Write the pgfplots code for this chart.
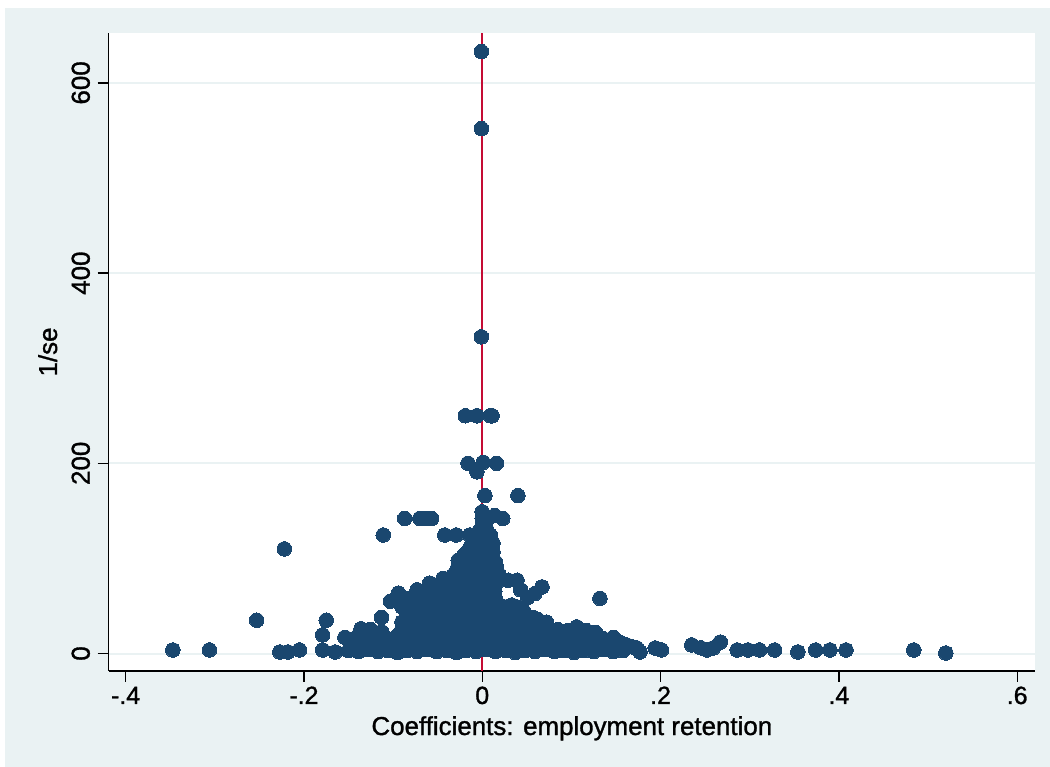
\documentclass[border=0pt]{standalone}
\usepackage{pgfplots}
\pgfplotsset{compat=1.18}
\usepackage{fontspec}
\setmainfont{Liberation Sans}[BoldFont=Liberation Sans, BoldFeatures={FakeBold=1.2}]
\definecolor{bgblue}{RGB}{234,242,243}
\definecolor{navy}{RGB}{26,71,111}
\definecolor{cran}{RGB}{196,12,52}
\definecolor{gridc}{RGB}{234,242,243}
\begin{document}
\begin{tikzpicture}[x=1bp,y=1bp]
\useasboundingbox (-108.7,-96) rectangle (941.3,671);
\fill[white] (-108.7,-96) rectangle (941.3,671);
\fill[bgblue] (-103.7,-96) rectangle (941.3,663);
\begin{axis}[
  at={(0,0)}, anchor=south west,
  scale only axis, width=926.3bp, height=638bp,
  xmin=-0.419, xmax=0.620, ymin=-18.4, ymax=652.5,
  axis lines*=left,
  axis line style={black, line width=1.6bp},
  axis background/.style={fill=white},
  xtick={-0.4,-0.2,0,0.2,0.4,0.6},
  xticklabels={-.4,-.2,0,.2,.4,.6},
  ytick={0,200,400,600},
  yticklabels={0,200,400,600},
  tick align=outside,
  major tick length=11bp,
  every tick/.style={black, line width=1.3bp},
  ymajorgrids, major grid style={gridc, line width=2bp},
  xticklabel style={font=\fontsize{25}{25}\selectfont\bfseries, anchor=base, yshift=-22bp},
  yticklabel style={font=\fontsize{26}{26}\selectfont\bfseries, xshift=-8bp, rotate=90, anchor=base},
  xlabel={Coefficients: employment retention},
  ylabel={1/se},
  every axis x label/.style={at={(axis description cs:0.5,0)}, anchor=base, yshift=-64bp, font=\fontsize{26}{26}\selectfont\bfseries},
  every axis y label/.style={at={(axis description cs:0,0.5)}, xshift=-51.7bp, rotate=90, anchor=base, font=\fontsize{26}{26}\selectfont\bfseries},
]
\addplot[cran, line width=2bp] coordinates {(0,-18.4) (0,652.5)};
\addplot[only marks, mark=*, mark size=7.3bp, mark options={fill=navy, draw=navy, line width=0pt}] coordinates {
(-0.347,3.7) (-0.306,3.7) (-0.253,35) (-0.222,110) (-0.227,1.6) (-0.218,1.6) (-0.205,3.7)
(-0.179,19.5) (-0.175,35) (-0.179,3.7) (-0.165,1.6) (-0.154,17) (-0.113,38) (-0.111,124.6)
(-0.103,55) (-0.094,63.5) (-0.090,49)
(-0.087,142) (-0.070,142) (-0.064,142) (-0.057,142)
(-0.042,124.6) (-0.029,124.6) (-0.014,124.6) (0.009,124.6)
(0.000,135) (0.004,137) (0.000,142) (0.014,145) (0.023,142) (0.000,149)
(0.003,166) (0.040,166)
(-0.016,200) (-0.006,191) (0.001,201) (0.016,200)
(-0.019,250) (-0.006,250) (0.009,250) (0.011,250)
(-0.001,333) (-0.001,552) (-0.001,633)
(0.029,77) (0.039,77) (0.043,67) (0.051,59) (0.059,63) (0.067,70)
(0.132,58) (0.147,17) (0.154,12) (0.162,9) (0.168,7) (0.173,6) (0.177,1.6) (0.194,5.8) (0.201,3.7)
(0.235,9) (0.245,6) (0.252,3.7) (0.259,5.8) (0.267,12) (0.286,3.7) (0.298,3.7) (0.311,3.7) (0.328,3.7)
(0.354,1.6) (0.374,3.7) (0.390,3.7) (0.408,3.7) (0.484,3.7) (0.520,0.5)
(-0.150,3) (-0.139,2) (-0.128,4) (-0.117,2) (-0.106,3) (-0.095,1) (-0.084,3) (-0.073,2) (-0.062,4) (-0.051,2)
(-0.040,3) (-0.029,1) (-0.018,3) (-0.007,2) (0.004,4) (0.015,2) (0.026,3) (0.037,1) (0.048,3) (0.059,2)
(0.070,4) (0.081,2) (0.092,3) (0.103,1) (0.114,3) (0.125,2) (0.136,4) (0.147,2) (0.158,3)
(-0.145,10) (-0.134,9) (-0.123,11) (-0.112,8) (-0.101,10) (-0.090,12) (-0.079,9) (-0.068,10) (-0.057,11) (-0.046,8)
(-0.035,10) (-0.024,12) (-0.013,9) (-0.002,10) (0.009,11) (0.020,8) (0.031,10) (0.042,12) (0.053,9) (0.064,10)
(0.075,11) (0.086,9) (0.097,10) (0.108,12) (0.119,9) (0.130,10) (0.141,11) (0.152,10)
(-0.140,18) (-0.129,17) (-0.118,19) (-0.107,16) (-0.096,18) (-0.085,20) (-0.074,17) (-0.063,18) (-0.052,19) (-0.041,16)
(-0.030,18) (-0.019,20) (-0.008,17) (0.003,18) (0.014,19) (0.025,16) (0.036,18) (0.047,20) (0.058,17) (0.069,18)
(0.080,19) (0.091,17) (0.102,18) (0.113,20) (0.124,18) (0.135,16)
(-0.136,26) (-0.125,25) (-0.113,23) (-0.090,26) (-0.079,27) (-0.068,25) (-0.057,26) (-0.046,28) (-0.035,25) (-0.024,26)
(-0.013,27) (-0.002,25) (0.009,26) (0.020,28) (0.031,25) (0.042,26) (0.053,27) (0.064,25) (0.075,26) (0.085,25)
(0.096,24) (0.106,28) (0.117,24) (0.127,22)
(-0.090,33) (-0.079,35) (-0.068,34) (-0.057,35) (-0.046,33) (-0.035,36) (-0.024,34) (-0.013,35) (-0.002,33) (0.009,35)
(0.020,34) (0.031,36) (0.042,34) (0.053,35) (0.062,36) (0.072,33)
(-0.085,42) (-0.074,43) (-0.063,41) (-0.052,43) (-0.041,42) (-0.030,44) (-0.019,42) (-0.008,43) (0.003,41) (0.014,43)
(0.025,42) (0.036,44) (0.046,45) (0.057,38)
(-0.088,49) (-0.077,51) (-0.066,50) (-0.055,52) (-0.044,49) (-0.033,51) (-0.022,50) (-0.011,52) (0.000,49) (0.011,51)
(0.022,50) (0.033,51) (0.039,49)
(-0.082,58) (-0.071,57) (-0.060,59) (-0.049,58) (-0.038,60) (-0.027,57) (-0.016,59) (-0.005,58) (0.006,60) (0.015,57)
(-0.073,67) (-0.062,65) (-0.051,66) (-0.040,68) (-0.029,65) (-0.018,67) (-0.007,66) (0.004,68) (0.014,65)
(-0.059,74) (-0.048,73) (-0.037,75) (-0.026,74) (-0.015,72) (-0.004,75) (0.007,73) (0.016,74)
(-0.044,79) (-0.033,82) (-0.022,81) (-0.011,83) (0.000,80) (0.011,82) (0.018,84)
(-0.028,89) (-0.017,90) (-0.006,88) (0.005,91) (0.016,91)
(-0.027,98) (-0.016,96) (-0.005,97) (0.006,99) (0.015,96)
(-0.020,104) (-0.009,106) (0.002,104) (0.012,107)
(-0.014,111) (-0.004,114) (0.007,112) (0.012,116)
(-0.010,120) (0.000,122) (0.008,119)
(-0.004,128) (0.005,130)
};
\end{axis}
\end{tikzpicture}
\end{document}
